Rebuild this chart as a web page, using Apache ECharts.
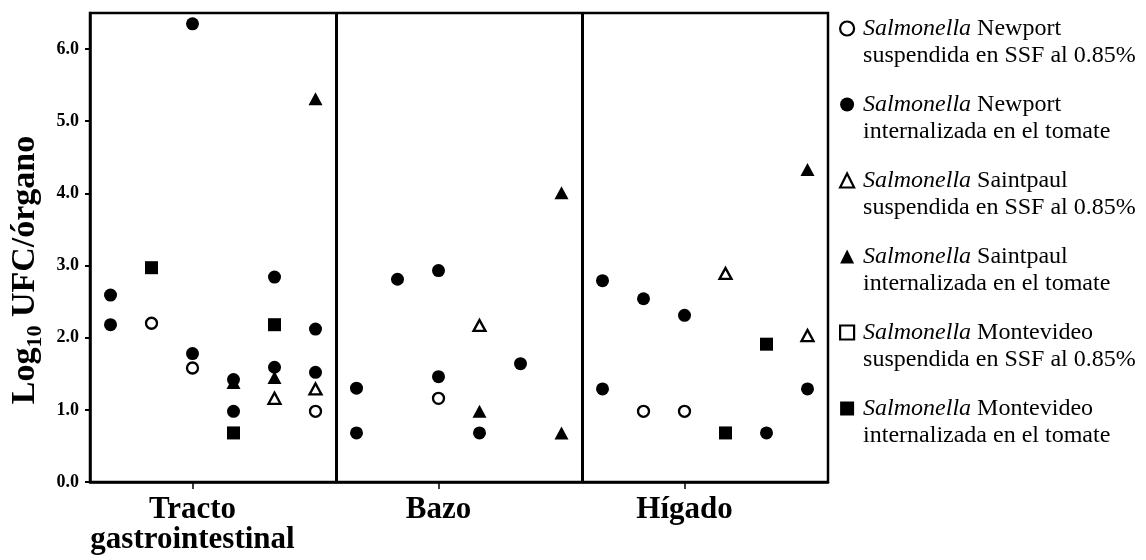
<!DOCTYPE html>
<html>
<head>
<meta charset="utf-8">
<script src="https://cdn.jsdelivr.net/npm/echarts@6/dist/echarts.min.js"></script>
<style>
  html, body { margin: 0; padding: 0; background: #fff; }
  #chart { width: 1146px; height: 560px; }
</style>
</head>
<body>
<div id="chart"></div>
<script>
// Organ groups along the x axis; each group holds six animal slots.
const organs = ['Tracto\ngastrointestinal', 'Bazo', 'Hígado'];
const slotsPerOrgan = 6;

// Y axis tick values (Log10 UFC/órgano)
const yTicks = [0, 1, 2, 3, 4, 5, 6];

// Each point: [slot index across the three organs, log10 UFC]
const newportSSF = [[1, 2.2], [2, 1.58], [5, 0.98], [8, 1.16], [13, 0.98], [14, 0.98]];
const newportTomate = [
  [0, 2.59], [0, 2.18], [2, 6.35], [2, 1.78], [3, 1.42], [3, 0.98], [4, 2.84], [4, 1.59],
  [5, 2.12], [5, 1.52], [6, 1.3], [6, 0.68], [7, 2.81], [8, 2.93], [8, 1.46], [9, 0.68],
  [10, 1.64], [12, 2.79], [12, 1.29], [13, 2.54], [14, 2.31], [16, 0.68], [17, 1.29]
];
const saintpaulSSF = [[4, 1.16], [5, 1.29], [9, 2.17], [15, 2.89], [17, 2.03]];
const saintpaulTomate = [[3, 1.38], [4, 1.45], [5, 5.31], [9, 0.98], [11, 4.01], [11, 0.68], [17, 4.33]];
const montevideoSSF = [];
const montevideoTomate = [[1, 2.97], [3, 0.68], [4, 2.18], [15, 0.68], [16, 1.91]];

const seriesNames = [
  'Salmonella Newport|suspendida en SSF al 0.85%',
  'Salmonella Newport|internalizada en el tomate',
  'Salmonella Saintpaul|suspendida en SSF al 0.85%',
  'Salmonella Saintpaul|internalizada en el tomate',
  'Salmonella Montevideo|suspendida en SSF al 0.85%',
  'Salmonella Montevideo|internalizada en el tomate'
];

const FONT = 'Liberation Serif';
const openStyle = { color: '#fff', borderColor: '#000', borderWidth: 2.3, opacity: 1 };
const filledStyle = { color: '#000', borderColor: '#000', borderWidth: 0, opacity: 1 };

const organTicks = organs.map((_, i) => i * slotsPerOrgan + 2);
const dividers = organs.slice(1).map((_, i) => (i + 1) * slotsPerOrgan - 0.5);
const xMin = -0.5;
const xMax = organs.length * slotsPerOrgan - 0.5;

function scatter(nameIdx, data, symbol, size, style, extra) {
  return Object.assign({
    name: seriesNames[nameIdx],
    type: 'scatter',
    data: data,
    symbol: symbol,
    symbolSize: size,
    itemStyle: style,
    emphasis: { disabled: true },
    z: 3
  }, extra || {});
}

const series = [
  scatter(1, newportTomate, 'circle', 13, filledStyle, {
    markLine: {
      silent: true,
      symbol: ['none', 'none'],
      label: { show: false },
      lineStyle: { color: '#000', width: 3, type: 'solid', opacity: 1 },
      data: dividers.map(v => ({ xAxis: v }))
    }
  }),
  scatter(0, newportSSF, 'circle', 11, openStyle),
  scatter(3, saintpaulTomate, 'triangle', [14, 13], filledStyle),
  scatter(2, saintpaulSSF, 'triangle', [12, 11], openStyle),
  scatter(5, montevideoTomate, 'rect', 13, filledStyle),
  scatter(4, montevideoSSF, 'rect', 12, openStyle)
];

const legendIcons = ['circle', 'circle', 'triangle', 'triangle', 'rect', 'rect'];
const legendData = seriesNames.map((name, i) => ({
  name: name,
  icon: legendIcons[i],
  itemStyle: (i % 2 === 0)
    ? { color: '#fff', borderColor: '#000', borderWidth: 2.2, opacity: 1 }
    : { color: '#000', borderWidth: 0, opacity: 1 }
}));

const chart = echarts.init(document.getElementById('chart'), null, { renderer: 'canvas' });
chart.setOption({
  animation: false,
  backgroundColor: '#fff',
  grid: {
    left: 90, right: 318, top: 13, bottom: 78,
    show: true, borderColor: '#000', borderWidth: 2.5, backgroundColor: 'transparent'
  },
  xAxis: {
    type: 'value',
    min: xMin, max: xMax,
    splitLine: { show: false },
    axisLine: { show: true, onZero: false, lineStyle: { color: '#000', width: 2.5 } },
    axisTick: { show: true, customValues: organTicks, length: 7, lineStyle: { color: '#000', width: 1.5 } },
    axisLabel: {
      customValues: organTicks,
      formatter: v => organs[organTicks.indexOf(v)] || '',
      color: '#000', fontFamily: FONT, fontWeight: 'bold', fontSize: 31, lineHeight: 30, margin: 13
    }
  },
  yAxis: {
    type: 'value',
    min: 0, max: 6.5, interval: 1,
    splitLine: { show: false },
    axisLine: { show: true, onZero: false, lineStyle: { color: '#000', width: 2.5 } },
    axisTick: { show: true, customValues: yTicks, length: 5, lineStyle: { color: '#000', width: 2 } },
    axisLabel: {
      customValues: yTicks,
      formatter: v => v.toFixed(1),
      color: '#000', fontFamily: FONT, fontWeight: 'bold', fontSize: 18, margin: 11
    }
  },
  legend: {
    orient: 'vertical',
    left: 839, top: -12,
    padding: 0,
    itemWidth: 14, itemHeight: 14,
    itemGap: -5,
    selectedMode: false,
    data: legendData,
    formatter: name => {
      const [head, tail] = name.split('|');
      const strain = head.replace('Salmonella ', '');
      return '{i|Salmonella}{r| ' + strain + '}\n{r|' + tail + '}';
    },
    textStyle: {
      fontFamily: FONT, fontSize: 24, color: '#000', lineHeight: 27,
      padding: [27, 0, 0, 4],
      rich: {
        i: { fontFamily: FONT, fontSize: 24, fontStyle: 'italic', color: '#000', lineHeight: 27 },
        r: { fontFamily: FONT, fontSize: 24, color: '#000', lineHeight: 27 }
      }
    }
  },
  graphic: [{
    type: 'text',
    x: 25, y: 270,
    rotation: Math.PI / 2,
    style: {
      text: '{m|Log}{s|10}{m| UFC/órgano}',
      align: 'center', verticalAlign: 'middle',
      fill: '#000',
      rich: {
        m: { fontFamily: FONT, fontWeight: 'bold', fontSize: 34, lineHeight: 34, fill: '#000' },
        s: { fontFamily: FONT, fontWeight: 'bold', fontSize: 22, lineHeight: 22, verticalAlign: 'bottom', padding: [0, 0, -4, 0], fill: '#000' }
      }
    }
  }],
  series: series
});
</script>
</body>
</html>
